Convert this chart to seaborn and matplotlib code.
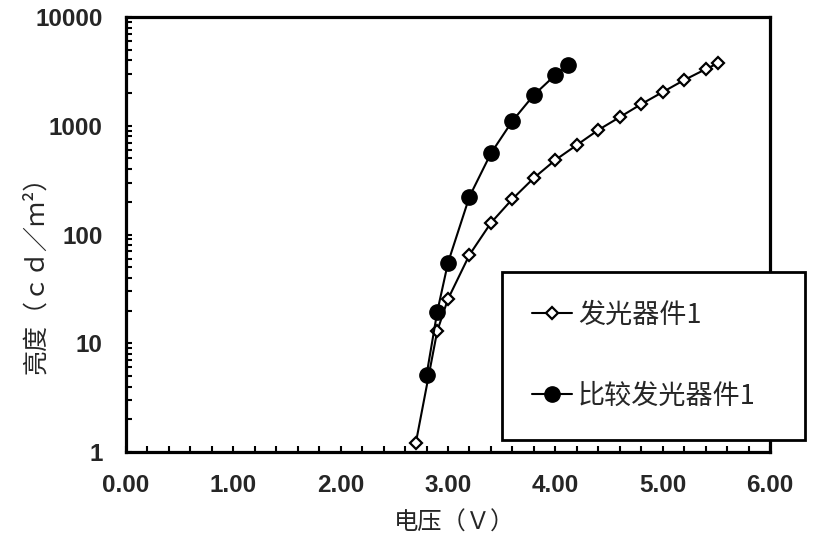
import matplotlib
matplotlib.use("Agg")
import matplotlib.pyplot as plt
import matplotlib.ticker as mticker
import seaborn as sns
import pandas as pd

# ---- data ----
dev1_v = [2.70, 2.90, 3.00, 3.20, 3.40, 3.60, 3.80, 4.00, 4.20, 4.40, 4.60, 4.80, 5.00, 5.20, 5.40, 5.52]
dev1_l = [1.21, 13.0, 25.5, 65.0, 128, 212, 331, 484, 665, 914, 1200, 1580, 2040, 2630, 3310, 3780]
ref_v = [2.80, 2.90, 3.00, 3.20, 3.40, 3.60, 3.80, 4.00, 4.12]
ref_l = [5.1, 19.5, 55.0, 223, 558, 1106, 1918, 2930, 3620]
label_dev1 = "发光器件1"
label_ref = "比较发光器件1"
x_ticks = [0, 1, 2, 3, 4, 5, 6]
x_tick_labels = ["0.00", "1.00", "2.00", "3.00", "4.00", "5.00", "6.00"]
y_ticks = [1, 10, 100, 1000, 10000]
y_tick_labels = ["1", "10", "100", "1000", "10000"]
x_label = "电压（Ｖ）"
y_label = "亮度（ｃｄ／ｍ²）"

sns.set_style("ticks")
plt.rcParams["font.family"] = ["Noto Sans CJK SC", "DejaVu Sans"]

fig = plt.figure(figsize=(8.13, 5.47), dpi=100)
ax = fig.add_axes([126 / 813, 1 - 452 / 547, 644 / 813, 435 / 547])

df1 = pd.DataFrame({"v": dev1_v, "l": dev1_l})
df2 = pd.DataFrame({"v": ref_v, "l": ref_l})

sns.lineplot(data=df1, x="v", y="l", ax=ax, color="black", lw=1.5, marker="D",
             markersize=6.6, markerfacecolor="white", markeredgecolor="black",
             markeredgewidth=1.6, label=label_dev1, sort=False, zorder=3)
sns.lineplot(data=df2, x="v", y="l", ax=ax, color="black", lw=1.5, marker="o",
             markersize=11, markerfacecolor="black", markeredgecolor="black",
             markeredgewidth=1, label=label_ref, sort=False, zorder=4)

ax.set_yscale("log")
ax.set_xlim(0, 6)
ax.set_ylim(1, 10000)

tick_font = ["Liberation Sans", "DejaVu Sans"]
ax.set_xticks(x_ticks)
ax.set_xticklabels(x_tick_labels, family=tick_font, fontsize=17.5, fontweight="bold")
ax.set_yticks(y_ticks)
ax.set_yticklabels(y_tick_labels, family=tick_font, fontsize=17.5, fontweight="bold")
ax.xaxis.set_minor_locator(mticker.MultipleLocator(0.2))
ax.yaxis.set_minor_locator(mticker.LogLocator(base=10, subs=range(2, 10)))
ax.yaxis.set_minor_formatter(mticker.NullFormatter())

ax.tick_params(which="both", direction="in", length=4, width=1.5, color="black",
               top=False, right=False)
ax.tick_params(axis="x", which="major", pad=16)
ax.tick_params(axis="y", which="major", pad=17)

for s in ax.spines.values():
    s.set_linewidth(2.3)
    s.set_color("black")
    s.set_visible(True)

ax.set_xlabel(x_label, fontsize=17.5, family=["Noto Sans CJK SC", "DejaVu Sans"])
ax.set_ylabel(y_label, fontsize=18, family=["Noto Sans CJK SC", "DejaVu Sans"])
ax.xaxis.set_label_coords(0.51, -0.133)
ax.yaxis.set_label_coords(-0.12, 0.42)

leg = ax.legend(loc="upper left", bbox_to_anchor=(376 / 644, 0.0, 303 / 644, 180 / 435),
                mode="expand", borderaxespad=0, frameon=True, fancybox=False,
                framealpha=1, edgecolor="black", fontsize=19.5, borderpad=1.1,
                labelspacing=2.0, handlelength=1.5, handletextpad=0.2)
leg.get_frame().set_linewidth(2)
leg.set_zorder(10)

fig.savefig("out.png", dpi=100, facecolor="white")
